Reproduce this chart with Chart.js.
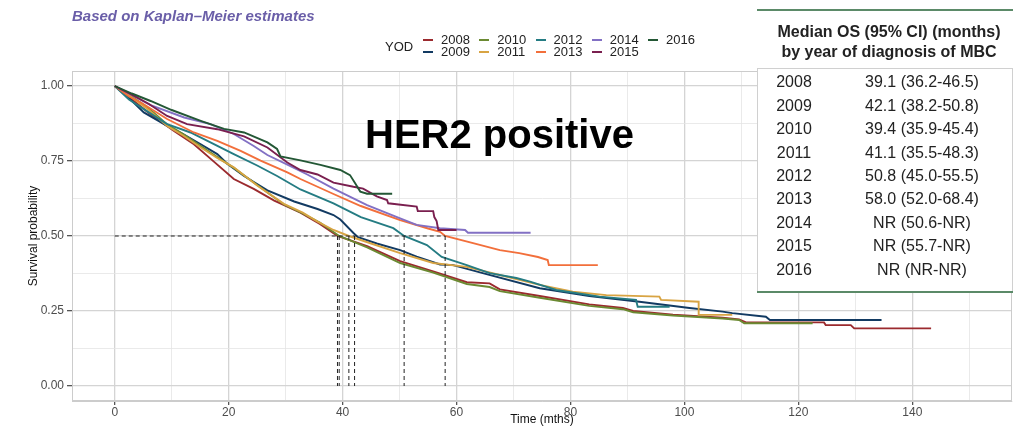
<!DOCTYPE html>
<html lang="en">
<head>
    <meta charset="UTF-8">
    <title>HER2 positive - overall survival by year of diagnosis</title>
    <style>
        body {
            margin: 0;
            background: #fff;
            font-family: "Liberation Sans", Arial, sans-serif;
        }
        #wrap {
            position: relative;
            width: 1025px;
            height: 432px;
            overflow: hidden;
        }
        #kmChart {
            position: absolute;
            left: 0;
            top: 0;
        }
        #subtitle {
            position: absolute;
            left: 72px;
            top: 7px;
            font-size: 15px;
            line-height: 18px;
            font-weight: bold;
            font-style: italic;
            color: #6a5ea8;
            white-space: nowrap;
        }
        #legendTitle {
            position: absolute;
            left: 385px;
            top: 40px;
            font-size: 13px;
            line-height: 14px;
            color: #222;
        }
        #legendItems {
            position: absolute;
            left: 423px;
            top: 34px;
            display: grid;
            grid-auto-flow: column;
            grid-template-rows: 12px 12px;
            grid-template-columns: repeat(5, 56.25px);
            font-size: 13px;
            line-height: 12px;
            color: #222;
        }
        .item {
            display: flex;
            align-items: center;
            white-space: nowrap;
        }
        .key {
            width: 10px;
            height: 2px;
            margin-right: 8px;
        }
        #her2 {
            position: absolute;
            left: 365px;
            top: 114px;
            font-size: 40px;
            line-height: 40px;
            font-weight: bold;
            color: #000;
            white-space: nowrap;
        }
        #medianTable {
            position: absolute;
            left: 757px;
            top: 9px;
            width: 256px;
            height: 280px;
            background: #fff;
            border-top: 2px solid #5b8a68;
            border-bottom: 2px solid #5b8a68;
            color: #222;
        }
        #medianTable .head {
            position: absolute;
            left: 0;
            top: 11px;
            width: 264px;
            text-align: center;
            font-size: 16px;
            line-height: 20px;
            font-weight: bold;
            white-space: nowrap;
        }
        #medianTable .box {
            position: absolute;
            left: 0;
            right: 0;
            top: 57px;
            bottom: 0;
            border: 1px solid #d0d0d0;
            border-bottom: none;
        }
        #medianTable .row {
            position: absolute;
            left: 0;
            width: 256px;
            height: 23.4px;
            line-height: 23.4px;
            font-size: 16px;
            display: flex;
        }
        .row .yr { width: 74px; text-align: center; }
        .row .val { width: 182px; text-align: center; }
    </style>
</head>
<body>
<div id="wrap">
    <canvas id="kmChart" width="1025" height="432"></canvas>
    <div id="subtitle">Based on Kaplan–Meier estimates</div>
    <div id="legendTitle">YOD</div>
    <div id="legendItems"></div>
    <div id="her2">HER2 positive</div>
    <div id="medianTable">
        <div class="head">Median OS (95% CI) (months)<br>by year of diagnosis of MBC</div>
        <div class="box"></div>
    </div>
</div>
<script src="https://cdn.jsdelivr.net/npm/chart.js"></script>
<script>
    // year of diagnosis groups
    const years = ['2008', '2009', '2010', '2011', '2012', '2013', '2014', '2015', '2016'];
    const yodColors = ['#9b2a2e', '#123a62', '#6b8a32', '#d8a443', '#257c83', '#f26f3b', '#8270c4', '#7a1f4f', '#235735'];

    // Kaplan-Meier estimates: [months, survival]
    const km2008 = [[0,1],[3.4,0.95],[6.3,0.905],[10.4,0.85],[13.9,0.806],[17.4,0.748],[20.9,0.69],[24.4,0.657],[28,0.618],[32.6,0.578],[36,0.54],[39.1,0.5],[44.3,0.466],[50.1,0.416],[55.9,0.382],[61.8,0.346],[65.8,0.342],[67.6,0.322],[74.6,0.3],[83.3,0.272],[89.2,0.26],[91,0.25],[98,0.238],[106.7,0.228],[109.6,0.222],[110.8,0.212],[124.5,0.212],[124.8,0.203],[129.2,0.203],[129.8,0.192],[143.3,0.192]];
    const km2009 = [[0,1],[2.5,0.96],[5.1,0.912],[9.2,0.867],[12,0.84],[15.1,0.806],[18,0.773],[19.8,0.74],[22.7,0.7],[26.8,0.652],[31.5,0.615],[35.6,0.59],[38.4,0.57],[39.6,0.555],[41.9,0.51],[42.7,0.496],[46,0.475],[50.1,0.453],[53,0.431],[57.1,0.405],[59.4,0.403],[64.6,0.376],[74.6,0.326],[83.3,0.3],[92.1,0.281],[100.9,0.26],[106.7,0.248],[108.4,0.243],[114.3,0.231],[115,0.22],[134.6,0.22]];
    const km2010 = [[0,1],[3,0.965],[6,0.925],[9.2,0.872],[12,0.84],[15.1,0.8],[18,0.763],[20.9,0.727],[25,0.67],[29.7,0.605],[33,0.575],[36,0.545],[39.4,0.5],[44.3,0.462],[50.1,0.41],[55.9,0.378],[61.8,0.34],[65.8,0.33],[67.6,0.316],[74.6,0.294],[83.3,0.267],[89.2,0.256],[91,0.246],[98,0.235],[106.7,0.225],[109.6,0.22],[110.5,0.209],[122.5,0.209]];
    const km2011 = [[0,1],[3,0.962],[6,0.92],[9.2,0.867],[12,0.835],[15.1,0.795],[18,0.76],[20.9,0.729],[25,0.668],[29.7,0.607],[33,0.578],[35.6,0.548],[38.4,0.52],[41.1,0.5],[45,0.475],[50.1,0.443],[55.9,0.41],[61.8,0.397],[67.6,0.37],[74.6,0.337],[80.4,0.314],[86.3,0.303],[95.6,0.298],[95.9,0.287],[102.5,0.281],[102.5,0.237],[108.4,0.237]];
    const km2012 = [[0,1],[2.5,0.955],[5.1,0.923],[9.2,0.873],[13.3,0.845],[16.8,0.812],[20.9,0.773],[25,0.735],[28.5,0.7],[32.6,0.655],[38.4,0.609],[43.2,0.563],[48.9,0.526],[50.8,0.5],[54.8,0.47],[57.4,0.43],[61.8,0.403],[65.8,0.376],[70.5,0.36],[72.9,0.348],[77.5,0.32],[85.1,0.298],[91.5,0.287],[91.8,0.264],[97.4,0.264]];
    const km2013 = [[0,1],[2.5,0.965],[4.6,0.945],[9.2,0.89],[13.9,0.845],[18,0.817],[22.1,0.784],[25.6,0.751],[30.3,0.712],[32.6,0.69],[38.4,0.64],[43.2,0.6],[50.1,0.553],[55,0.525],[57.1,0.514],[58,0.5],[62.9,0.476],[67.6,0.453],[71,0.443],[74.3,0.43],[76,0.42],[76.2,0.403],[84.8,0.403]];
    const km2014 = [[0,1],[3,0.97],[6.3,0.936],[12.2,0.895],[16.8,0.873],[20.9,0.84],[24.4,0.8],[26.8,0.77],[30.3,0.738],[33.8,0.705],[38.4,0.658],[44.3,0.603],[50.1,0.559],[53,0.537],[57.1,0.526],[61.5,0.52],[62,0.511],[73,0.511]];
    const km2015 = [[0,1],[3.4,0.967],[6,0.94],[9.2,0.9],[12.7,0.873],[18,0.856],[22.7,0.832],[26.8,0.795],[30.3,0.745],[32.6,0.72],[35.6,0.705],[38.4,0.678],[41.9,0.664],[43.6,0.658],[46,0.632],[47.8,0.62],[48,0.609],[53,0.598],[53.2,0.583],[55.9,0.583],[56.1,0.563],[56.5,0.55],[56.8,0.52],[60,0.52]];
    const km2016 = [[0,1],[3,0.975],[6.3,0.95],[10,0.92],[15.1,0.884],[19.2,0.857],[22.7,0.845],[26.8,0.812],[28.5,0.79],[29.1,0.765],[32.6,0.752],[36.1,0.737],[39.6,0.72],[41.3,0.703],[42.2,0.676],[43.1,0.648],[44.3,0.641],[48.7,0.641]];
    const curves = [km2008, km2009, km2010, km2011, km2012, km2013, km2014, km2015, km2016];

    // medians reached (months) and the table text
    const medianMonths = [39.1, 42.1, 39.4, 41.1, 50.8, 58.0];
    const medianLabels = ['39.1 (36.2-46.5)', '42.1 (38.2-50.8)', '39.4 (35.9-45.4)', '41.1 (35.5-48.3)', '50.8 (45.0-55.5)',
        '58.0 (52.0-68.4)', 'NR (50.6-NR)', 'NR (55.7-NR)', 'NR (NR-NR)'];

    const xTicks = [0, 10, 20, 30, 40, 50, 60, 70, 80, 90, 100, 110, 120, 130, 140, 150];
    const yTicks = [0, 0.125, 0.25, 0.375, 0.5, 0.625, 0.75, 0.875, 1];

    const isMajorX = v => v % 20 === 0;
    const isMajorY = v => Math.abs(v * 4 - Math.round(v * 4)) < 1e-9;

    const datasets = curves.map((pts, i) => ({
        label: years[i],
        data: pts.map(([x, y]) => ({ x, y })),
        borderColor: yodColors[i],
        borderWidth: 1.9,
        showLine: true,
        pointRadius: 0,
        order: curves.length - i
    }));

    // dashed median guide lines
    const dashed = { borderColor: '#222', borderWidth: 1, borderDash: [4, 3], showLine: true, pointRadius: 0, order: 0 };
    datasets.push(Object.assign({ label: 'median', data: [{ x: 0, y: 0.5 }, { x: Math.max(...medianMonths), y: 0.5 }] }, dashed));
    medianMonths.forEach(m => {
        datasets.push(Object.assign({ label: 'median', data: [{ x: m, y: 0.5 }, { x: m, y: 0 }] }, dashed));
    });

    const panelBorder = {
        id: 'panelBorder',
        beforeDatasetsDraw(chart) {
            const { ctx, chartArea: { left, top, right, bottom } } = chart;
            ctx.save();
            ctx.strokeStyle = '#cccccc';
            ctx.lineWidth = 1;
            ctx.strokeRect(left + 0.5, top + 0.5, right - left - 1, bottom - top - 1);
            ctx.restore();
        }
    };

    const tickFont = { family: '"Liberation Sans", Arial, sans-serif', size: 12 };
    const titleFont = { family: '"Liberation Sans", Arial, sans-serif', size: 12 };

    const chart = new Chart(document.getElementById('kmChart').getContext('2d'), {
        type: 'scatter',
        data: { datasets: datasets },
        options: {
            responsive: false,
            animation: false,
            layout: { padding: { top: 71, right: 13, left: 22, bottom: 0 } },
            elements: { line: { tension: 0 } },
            plugins: {
                legend: { display: false },
                tooltip: { enabled: false }
            },
            scales: {
                x: {
                    type: 'linear',
                    min: -7.5,
                    max: 157.5,
                    afterBuildTicks: scale => { scale.ticks = xTicks.map(v => ({ value: v })); },
                    afterFit: scale => { scale.height = 31; },
                    ticks: {
                        autoSkip: false,
                        maxRotation: 0,
                        padding: 0,
                        color: '#4d4d4d',
                        font: tickFont,
                        callback: v => isMajorX(v) ? String(v) : ''
                    },
                    grid: {
                        color: c => c.tick && isMajorX(c.tick.value) ? '#d4d4d4' : '#e4e4e4',
                        lineWidth: c => c.tick && isMajorX(c.tick.value) ? 1.3 : 0.8,
                        tickColor: c => c.tick && isMajorX(c.tick.value) ? '#555' : 'rgba(0,0,0,0)',
                        tickLength: 4
                    },
                    border: { color: '#cccccc' },
                    title: { display: true, text: 'Time (mths)', color: '#111', font: titleFont, padding: { top: 0, bottom: 5 } }
                },
                y: {
                    type: 'linear',
                    min: -0.05,
                    max: 1.05,
                    afterBuildTicks: scale => { scale.ticks = yTicks.map(v => ({ value: v })); },
                    afterFit: scale => { scale.width = 50; },
                    ticks: {
                        autoSkip: false,
                        padding: 3,
                        color: '#4d4d4d',
                        font: tickFont,
                        callback: v => isMajorY(v) ? v.toFixed(2) : ''
                    },
                    grid: {
                        color: c => c.tick && isMajorY(c.tick.value) ? '#d4d4d4' : '#e4e4e4',
                        lineWidth: c => c.tick && isMajorY(c.tick.value) ? 1.3 : 0.8,
                        tickColor: c => c.tick && isMajorY(c.tick.value) ? '#555' : 'rgba(0,0,0,0)',
                        tickLength: 5
                    },
                    border: { color: '#cccccc' },
                    title: { display: true, text: 'Survival probability', color: '#111', font: titleFont, padding: { top: 4, bottom: 4 } }
                }
            }
        },
        plugins: [panelBorder]
    });

    // legend built from the chart's curve datasets (two rows, filled by column)
    const legendBox = document.getElementById('legendItems');
    chart.data.datasets.filter(d => years.includes(d.label)).forEach(d => {
        const item = document.createElement('div');
        item.className = 'item';
        const key = document.createElement('span');
        key.className = 'key';
        key.style.background = d.borderColor;
        const txt = document.createElement('span');
        txt.textContent = d.label;
        item.appendChild(key);
        item.appendChild(txt);
        legendBox.appendChild(item);
    });

    // median OS table
    const table = document.getElementById('medianTable');
    years.forEach((yr, i) => {
        const row = document.createElement('div');
        row.className = 'row';
        row.style.top = (59.3 + i * 23.4) + 'px';
        row.innerHTML = '<span class="yr"></span><span class="val"></span>';
        row.querySelector('.yr').textContent = yr;
        row.querySelector('.val').textContent = medianLabels[i];
        table.appendChild(row);
    });
</script>
</body>
</html>
